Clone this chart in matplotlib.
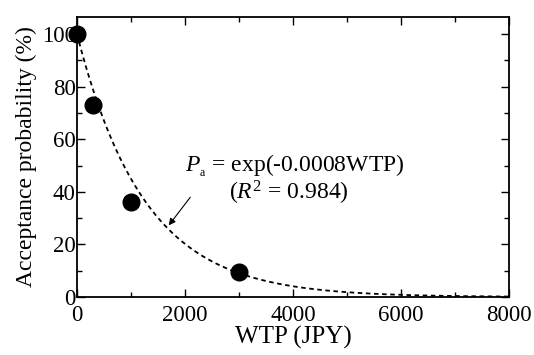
import numpy as np
import matplotlib
matplotlib.use("Agg")
import matplotlib.pyplot as plt
from matplotlib.ticker import MultipleLocator

plt.rcParams["font.family"] = "Liberation Serif"
plt.rcParams["mathtext.fontset"] = "custom"
plt.rcParams["mathtext.rm"] = "Liberation Serif"
plt.rcParams["mathtext.it"] = "Liberation Serif:italic"

# survey points
wtp = [0, 300, 1000, 3000]
accept = [100, 73, 36, 9.5]

# fitted model Pa = exp(-k * WTP)
k = 0.0008
fit_x = np.linspace(0, 8000, 400)
fit_y = 100 * np.exp(-k * fit_x)

fig = plt.figure(figsize=(5.34, 3.55), dpi=100)
ax = fig.add_axes([77 / 534, 1 - 297 / 355, 432 / 534, 280 / 355])

ax.plot(fit_x, fit_y, "k--", lw=1.3, dashes=(2.5, 2))
ax.plot(wtp, accept, "o", color="black", ms=12, clip_on=False, zorder=3)

ax.set_xlim(0, 8000)
ax.set_ylim(0, 106.5)
ax.xaxis.set_major_locator(MultipleLocator(2000))
ax.xaxis.set_minor_locator(MultipleLocator(1000))
ax.yaxis.set_major_locator(MultipleLocator(20))
ax.yaxis.set_minor_locator(MultipleLocator(10))
ax.tick_params(which="both", direction="in", top=True, right=True, labelsize=16.5, width=1)
ax.tick_params(which="major", length=6)
ax.tick_params(axis="x", which="major", pad=6)
ax.tick_params(axis="y", which="major", pad=1)
ax.tick_params(which="minor", length=3.5)
for s in ax.spines.values():
    s.set_linewidth(1.3)

ax.set_xlabel("WTP (JPY)", fontsize=18, labelpad=0)
ax.set_ylabel("Acceptance probability (%)", fontsize=17, labelpad=3)

ax.text(2000, 50, r"$P_{_{\mathrm{a}}}$ = exp(-0.0008WTP)", fontsize=17, va="center")
ax.text(2815, 39.5, r"($R^2$ = 0.984)", fontsize=17, va="center")
ax.annotate("", xy=(1667, 26.4), xytext=(2130, 38.8),
            arrowprops=dict(arrowstyle="-|>", color="black", lw=0.8, mutation_scale=10))

fig.savefig("out.png", dpi=100)
